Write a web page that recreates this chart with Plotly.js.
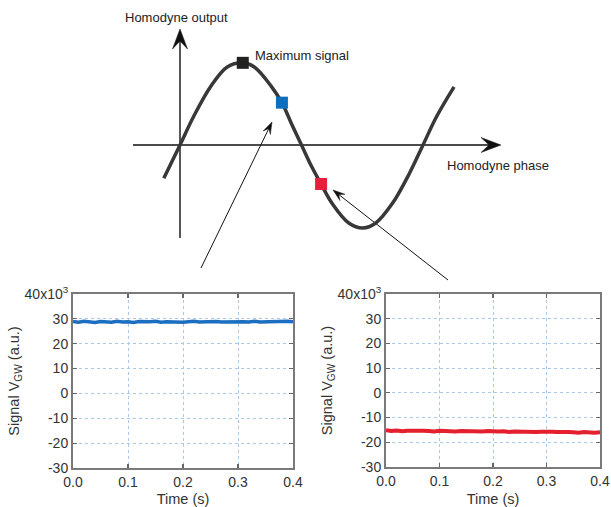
<!DOCTYPE html>
<html><head><meta charset="utf-8">
<script src="https://cdn.plot.ly/plotly-3.0.1.min.js"></script>
<style>html,body{margin:0;padding:0;background:#fff}#chart{width:611px;height:507px}</style>
</head><body><div id="chart"></div>
<script>
// Schematic: homodyne output vs phase (phase in degrees, output normalised)
var curvePhase  = [-24, 0, 20, 45, 70, 93, 110, 135, 151, 165, 180, 195, 209, 225, 250, 271, 290, 315, 340, 360, 380, 406];
var curveOutput = [-0.40, 0, 0.34, 0.70, 0.94, 0.99, 0.94, 0.71, 0.51, 0.26, 0, -0.26, -0.47, -0.70, -0.94, -1.0, -0.94, -0.70, -0.34, 0, 0.34, 0.70];
var markerPhase  = [93, 151, 209];
var markerOutput = [0.99, 0.51, -0.47];
var markerColors = ['#222222', '#0b6fbe', '#e5203a'];

// Time traces (signal in units of 10^3)
var time = [0.00,0.01,0.02,0.03,0.04,0.05,0.06,0.07,0.08,0.09,0.10,0.11,0.12,0.13,0.14,0.15,0.16,0.17,0.18,0.19,0.20,
            0.21,0.22,0.23,0.24,0.25,0.26,0.27,0.28,0.29,0.30,0.31,0.32,0.33,0.34,0.35,0.36,0.37,0.38,0.39,0.40];
var blueSignal = [28.9,28.6,29.0,28.7,28.5,28.9,28.8,28.6,29.0,28.7,28.8,28.5,28.9,28.7,28.8,29.0,28.6,28.8,28.7,28.9,28.6,
                  28.8,29.0,28.7,28.8,28.6,28.9,28.7,28.8,28.6,28.9,28.8,28.7,29.0,28.7,28.8,28.6,28.9,28.8,29.0,28.8];
var redSignal = [-15.1,-15.4,-15.2,-15.5,-15.3,-15.2,-15.5,-15.3,-15.4,-15.6,-15.3,-15.5,-15.4,-15.6,-15.4,-15.5,-15.7,-15.5,-15.6,-15.4,-15.7,
                 -15.6,-15.5,-15.8,-15.6,-15.7,-15.9,-15.6,-15.8,-15.7,-15.9,-15.7,-15.8,-16.0,-15.8,-15.9,-16.1,-15.8,-16.0,-16.1,-15.9];
var yTickVals = [-30, -20, -10, 0, 10, 20, 30, 40];
var yTickText = ['-30', '-20', '-10', '0', '10', '20', '30', '40x10<sup>3</sup>'];
var xTickVals = [0, 0.1, 0.2, 0.3, 0.4];
var xTickText = ['0.0', '0.1', '0.2', '0.3', '0.4'];

var W = 611, H = 507;
function dx(a, b) { return [a / W, b / W]; }
function dy(top, bottom) { return [1 - bottom / H, 1 - top / H]; }

var FONT = 'Liberation Sans, Arial, sans-serif';

// diagram axis: px = 180 + 0.675*deg ; py = 145 - 83*out
var diagX0 = 100, diagX1 = 560, diagY0 = 0, diagY1 = 290;
function degAt(px) { return (px - 180) / 0.675; }
function outAt(py) { return (145 - py) / 83; }

// arrow (shaft + swept head) built in pixel space of the diagram, converted to its axis units
function arrowTraces(tx, ty, hx, hy, L, Wd, lw) {
  var len = Math.hypot(hx - tx, hy - ty), ux = (hx - tx) / len, uy = (hy - ty) / len;
  var vx = -uy, vy = ux;
  var nx = hx - ux * L * 0.6, ny = hy - uy * L * 0.6;
  var bLx = hx - ux * L + vx * Wd / 2, bLy = hy - uy * L + vy * Wd / 2;
  var bRx = hx - ux * L - vx * Wd / 2, bRy = hy - uy * L - vy * Wd / 2;
  return [
    {x: [degAt(tx), degAt(nx)], y: [outAt(ty), outAt(ny)], xaxis: 'x', yaxis: 'y', mode: 'lines',
     line: {color: '#111', width: lw}, hoverinfo: 'skip'},
    {x: [degAt(hx), degAt(bLx), degAt(nx), degAt(bRx), degAt(hx)],
     y: [outAt(hy), outAt(bLy), outAt(ny), outAt(bRy), outAt(hy)], xaxis: 'x', yaxis: 'y',
     mode: 'lines', fill: 'toself', fillcolor: '#111', line: {color: '#111', width: 0.5}, hoverinfo: 'skip'}
  ];
}

var traces = [].concat(
  arrowTraces(133, 145, 501, 145, 20, 15, 1.4),
  arrowTraces(180, 238, 180, 29, 20, 15, 1.4),
  arrowTraces(201, 268, 272, 122, 12, 8, 1),
  arrowTraces(448, 280, 333, 190, 12, 8, 1),
  [
    {x: curvePhase, y: curveOutput, xaxis: 'x', yaxis: 'y', mode: 'lines',
     line: {color: '#383838', width: 3.5, shape: 'spline', smoothing: 1.0}, hoverinfo: 'skip'},
    {x: markerPhase, y: markerOutput, xaxis: 'x', yaxis: 'y', mode: 'markers',
     marker: {symbol: 'square', size: 12, color: markerColors}, hoverinfo: 'skip'},
    {x: time, y: blueSignal, xaxis: 'x2', yaxis: 'y2', mode: 'lines',
     line: {color: '#1c6fc0', width: 3.5}},
    {x: time, y: redSignal, xaxis: 'x3', yaxis: 'y3', mode: 'lines',
     line: {color: '#e5202e', width: 4}}
  ]
);

function chartX(dom) {
  return {domain: dom, range: [0, 0.4], tickvals: xTickVals, ticktext: xTickText,
    showline: true, mirror: 'ticks', linecolor: '#7a7a7a', linewidth: 2,
    ticks: 'inside', ticklen: 4, tickcolor: '#666', tickwidth: 1.2,
    showgrid: true, gridcolor: '#a9c9ea', griddash: 'dot', gridwidth: 1, zeroline: false,
    tickfont: {family: FONT, size: 14, color: '#333'},
    title: {text: 'Time (s)', font: {family: FONT, size: 14.5, color: '#333'}, standoff: 6}};
}
function chartY(dom, anchor) {
  return {domain: dom, range: [-30, 40], tickvals: yTickVals, ticktext: yTickText, anchor: anchor,
    showline: true, mirror: 'ticks', linecolor: '#7a7a7a', linewidth: 2,
    ticks: 'inside', ticklen: 4, tickcolor: '#666', tickwidth: 1.2,
    showgrid: true, gridcolor: '#a9c9ea', griddash: 'dot', gridwidth: 1, zeroline: false,
    tickfont: {family: FONT, size: 14, color: '#333'},
    title: {text: 'Signal V<sub>GW</sub> (a.u.)', font: {family: FONT, size: 14.5, color: '#333'}, standoff: 2}};
}

var annotations = [
  {xref: 'x', yref: 'y', x: degAt(123), y: outAt(17), text: 'Homodyne output', showarrow: false,
   xanchor: 'left', yanchor: 'middle', font: {family: FONT, size: 13, color: '#222'}},
  {xref: 'x', yref: 'y', x: degAt(253), y: outAt(55), text: 'Maximum signal', showarrow: false,
   xanchor: 'left', yanchor: 'middle', font: {family: FONT, size: 13, color: '#222'}},
  {xref: 'x', yref: 'y', x: degAt(445), y: outAt(165), text: 'Homodyne phase', showarrow: false,
   xanchor: 'left', yanchor: 'middle', font: {family: FONT, size: 13, color: '#222'}}
];

var layout = {
  width: W, height: H, margin: {l: 0, r: 0, t: 0, b: 0},
  paper_bgcolor: '#fff', plot_bgcolor: 'rgba(0,0,0,0)', showlegend: false,
  xaxis: {domain: dx(diagX0, diagX1), range: [degAt(diagX0), degAt(diagX1)], visible: false, fixedrange: true},
  yaxis: {domain: dy(diagY0, diagY1), range: [outAt(diagY1), outAt(diagY0)], visible: false, fixedrange: true},
  xaxis2: Object.assign(chartX(dx(73, 293)), {anchor: 'y2'}),
  yaxis2: chartY(dy(294, 468), 'x2'),
  xaxis3: Object.assign(chartX(dx(386, 600)), {anchor: 'y3'}),
  yaxis3: chartY(dy(294, 467), 'x3'),
  annotations: annotations
};

Plotly.newPlot('chart', traces, layout, {displayModeBar: false, staticPlot: true});
</script></body></html>
